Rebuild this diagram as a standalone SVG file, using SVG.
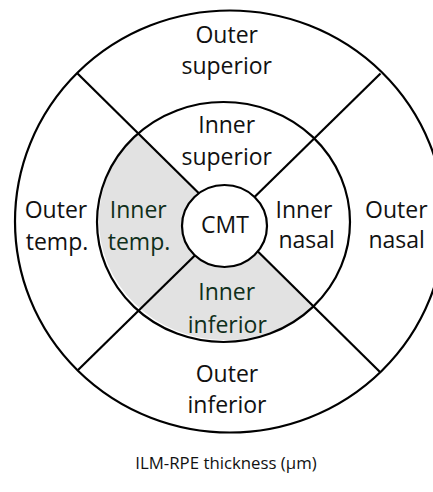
<svg xmlns="http://www.w3.org/2000/svg" width="433" height="492" viewBox="0 0 433 492">
  <style>
    .ring { fill: none; stroke: #000; stroke-width: 2.2; }
    .div { stroke: #000; stroke-width: 2.2; fill: none; }
    .lbl { font-family: "Open Sans", "Liberation Sans", sans-serif; font-size: 23px; fill: #111; text-anchor: middle; }
    .shd { fill: #0f2f1a; }
    .cap { font-family: "Open Sans", "Liberation Sans", sans-serif; font-size: 16.8px; fill: #111; text-anchor: middle; }
  </style>
  <rect width="433" height="492" fill="#fff"/>
  <g id="shading">
    <path d="M228.5,222.5 L137.9,133.4 A126.5,120 0 1 0 313,306.7 Z" fill="#e2e2e2"/>
  </g>
  <g id="dividers">
    <line class="div" x1="77.5" y1="73.5" x2="380.5" y2="372.5"/>
    <line class="div" x1="380.5" y1="73.5" x2="77.5" y2="370.5"/>
  </g>
  <g id="outer-ring">
    <ellipse class="ring" cx="229.9" cy="221.5" rx="214.9" ry="211"/>
  </g>
  <g id="inner-ring">
    <ellipse class="ring" cx="223.5" cy="222" rx="126.5" ry="120"/>
  </g>
  <g id="cmt">
    <ellipse cx="224.5" cy="226" rx="42.5" ry="41" fill="#fff" stroke="#000" stroke-width="2.2"/>
    <text class="lbl" x="225" y="233.3">CMT</text>
  </g>
  <g id="outer-superior">
    <text class="lbl" x="226.7" y="43.3">Outer</text>
    <text class="lbl" x="226.7" y="74">superior</text>
  </g>
  <g id="inner-superior">
    <text class="lbl" x="226.7" y="133.3">Inner</text>
    <text class="lbl" x="226.7" y="165">superior</text>
  </g>
  <g id="outer-temp">
    <text class="lbl" x="56" y="218.3">Outer</text>
    <text class="lbl" x="57" y="250">temp.</text>
  </g>
  <g id="inner-temp">
    <text class="lbl shd" x="138.3" y="218.3">Inner</text>
    <text class="lbl shd" x="139" y="250">temp.</text>
  </g>
  <g id="inner-nasal">
    <text class="lbl" x="304" y="218.3">Inner</text>
    <text class="lbl" x="306.7" y="248.3">nasal</text>
  </g>
  <g id="outer-nasal">
    <text class="lbl" x="396.3" y="218.3">Outer</text>
    <text class="lbl" x="396.7" y="248.3">nasal</text>
  </g>
  <g id="inner-inferior">
    <text class="lbl shd" x="226.7" y="300">Inner</text>
    <text class="lbl shd" x="227.3" y="332.7">inferior</text>
  </g>
  <g id="outer-inferior">
    <text class="lbl" x="227" y="381.7">Outer</text>
    <text class="lbl" x="227" y="413.3">inferior</text>
  </g>
  <g id="caption">
    <text class="cap" x="226" y="469">ILM-RPE thickness (µm)</text>
  </g>
</svg>
